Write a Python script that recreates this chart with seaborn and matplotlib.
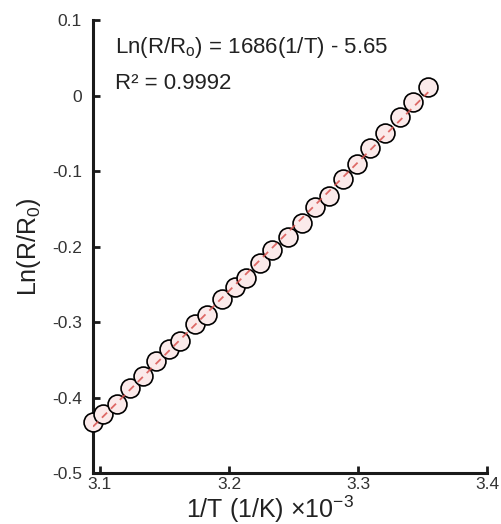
import matplotlib
matplotlib.use("Agg")
import matplotlib.pyplot as plt
import seaborn as sns
import pandas as pd

inv_T = [3.0946, 3.1021, 3.1129, 3.1233, 3.1331, 3.1434, 3.1537, 3.1620, 3.1736,
         3.1827, 3.1943, 3.2047, 3.2129, 3.2240, 3.2333, 3.2460, 3.2563, 3.2667,
         3.2778, 3.2886, 3.2990, 3.3093, 3.3209, 3.3326, 3.3429, 3.3545]
ln_R = [-0.433, -0.422, -0.409, -0.387, -0.372, -0.351, -0.336, -0.325, -0.302,
        -0.291, -0.269, -0.253, -0.242, -0.222, -0.205, -0.187, -0.169, -0.147,
        -0.133, -0.111, -0.091, -0.069, -0.049, -0.029, -0.009, 0.011]
x_ticks = [3.1, 3.2, 3.3, 3.4]
y_ticks = [-0.5, -0.4, -0.3, -0.2, -0.1, 0, 0.1]
x_tick_labels = ["3.1", "3.2", "3.3", "3.4"]
y_tick_labels = ["-0.5", "-0.4", "-0.3", "-0.2", "-0.1", "0", "0.1"]
eq_text = "Ln(R/R$_\\mathregular{o}$) = 1686(1/T) - 5.65"
r2_text = "R² = 0.9992"

df = pd.DataFrame({"invT": inv_T, "lnR": ln_R})

sns.set_style("ticks")
plt.rcParams["font.family"] = ["Liberation Sans", "DejaVu Sans"]
plt.rcParams["mathtext.fontset"] = "custom"
plt.rcParams["mathtext.rm"] = "Liberation Sans"

fig = plt.figure(figsize=(5.02, 5.24), dpi=100)
ax = fig.add_axes([0.185, 0.0973, 0.785, 0.8645])

sns.scatterplot(data=df, x="invT", y="lnR", ax=ax, s=185, marker="o",
                facecolor="#fbeaea", edgecolor="black", linewidth=1.2,
                zorder=3, clip_on=False)
sns.regplot(data=df, x="invT", y="lnR", ax=ax, ci=None, scatter=False,
            truncate=True,
            line_kws=dict(color="#d9534f", linestyle=(0, (4, 3)), linewidth=1.3,
                          zorder=4, alpha=0.85))

ax.set_xlim(3.0945, 3.4)
ax.set_ylim(-0.5, 0.1)
ax.set_xticks(x_ticks)
ax.set_xticklabels(x_tick_labels)
ax.set_yticks(y_ticks)
ax.set_yticklabels(y_tick_labels)

for side in ["top", "right"]:
    ax.spines[side].set_visible(False)
for side in ["left", "bottom"]:
    ax.spines[side].set_linewidth(2.2)
    ax.spines[side].set_color("#1a1a1a")

ax.tick_params(direction="in", length=5, width=2, colors="#1a1a1a",
               labelcolor="#333333", labelsize=12.5)
ax.tick_params(axis="y", pad=8)
ax.tick_params(axis="x", pad=3)

ax.set_xlabel("1/T (1/K) ×10$^{\\mathregular{-3}}$", fontsize=18,
              color="#222222", va="top")
ax.xaxis.set_label_coords(0.45, -0.045)
ax.set_ylabel("Ln(R/R$_\\mathregular{0}$)", fontsize=18, color="#222222", labelpad=6)

ax.text(0.055, 0.94, eq_text, transform=ax.transAxes, fontsize=16,
        color="#222222", va="center", ha="left")
ax.text(0.055, 0.86, r2_text, transform=ax.transAxes, fontsize=16,
        color="#222222", va="center", ha="left")

fig.savefig("out.png", dpi=100)
